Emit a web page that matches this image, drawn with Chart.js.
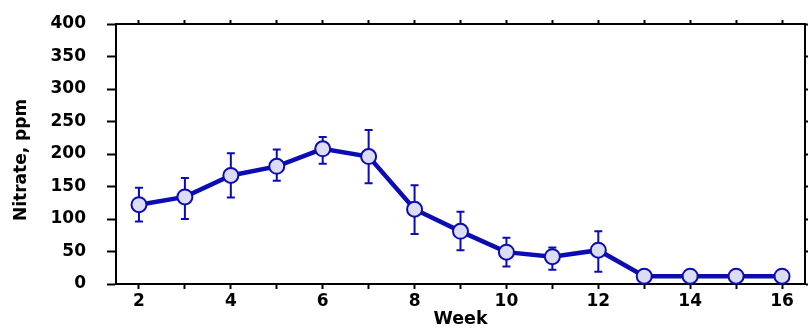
<!DOCTYPE html>
<html>
<head>
<meta charset="utf-8">
<script src="https://cdn.jsdelivr.net/npm/chart.js@4/dist/chart.umd.min.js"></script>
<style>
html,body{margin:0;padding:0;background:#fff;}
canvas{display:block;}
</style>
</head>
<body>
<canvas id="c" width="808" height="328"></canvas>
<script>
// ---- data ----
const weeks = [2, 3, 4, 5, 6, 7, 8, 9, 10, 11, 12, 13, 14, 15, 16];
const nitrate = [122, 134, 167, 181, 208, 196, 115, 81, 49, 42, 52, 12, 12, 12, 12];
const nitrateHigh = [148, 163, 201, 207, 226, 237, 152, 111, 71, 56, 81, null, null, null, null];
const nitrateLow = [96, 100, 133, 159, 185, 155, 77, 52, 27, 22, 19, null, null, null, null];
const yTicks = [0, 50, 100, 150, 200, 250, 300, 350, 400];
const xLabelWeeks = [2, 4, 6, 8, 10, 12, 14, 16];
const xTitle = 'Week';
const yTitle = 'Nitrate, ppm';

const BLUE = '#0c0cb4';
const FILL = '#dcdcf4';
const FONT = {family: 'DejaVu Sans', weight: 'bold', size: 17};

const errorBars = {
  id: 'errorBars',
  beforeDatasetsDraw(chart) {
    const {ctx, scales: {x, y}} = chart;
    ctx.save();
    ctx.strokeStyle = BLUE;
    ctx.lineWidth = 2;
    weeks.forEach((w, i) => {
      if (nitrateHigh[i] == null) return;
      const px = x.getPixelForValue(w);
      const yt = y.getPixelForValue(nitrateHigh[i]);
      const yb = y.getPixelForValue(nitrateLow[i]);
      ctx.beginPath();
      ctx.moveTo(px, yt); ctx.lineTo(px, yb);
      ctx.moveTo(px - 4, yt); ctx.lineTo(px + 4, yt);
      ctx.moveTo(px - 4, yb); ctx.lineTo(px + 4, yb);
      ctx.stroke();
    });
    ctx.restore();
  }
};

const tickSet = (vals) => (scale) => { scale.ticks = vals.map(v => ({value: v})); };
const noPad = (s) => { s.paddingTop = 0; s.paddingBottom = 0; s.paddingLeft = 0; s.paddingRight = 0; };

new Chart(document.getElementById('c'), {
  type: 'line',
  data: {
    datasets: [{
      data: weeks.map((w, i) => ({x: w, y: nitrate[i]})),
      borderColor: BLUE,
      borderWidth: 4.5,
      pointRadius: 7.5,
      pointBorderWidth: 2,
      pointBorderColor: BLUE,
      pointBackgroundColor: FILL,
      tension: 0,
      clip: false
    }]
  },
  options: {
    responsive: false,
    animation: false,
    events: [],
    layout: {padding: 0, autoPadding: false},
    plugins: {legend: {display: false}, tooltip: {enabled: false}},
    scales: {
      x: {
        type: 'linear', position: 'bottom', min: 1.5, max: 16.5,
        afterBuildTicks: tickSet(weeks),
        afterFit: (s) => { s.height = 44; noPad(s); },
        grid: {drawOnChartArea: false, drawTicks: true, tickLength: 5, tickWidth: 2, tickColor: '#000'},
        border: {display: true, color: '#000', width: 2},
        ticks: {
          color: '#000', font: FONT, padding: 2, maxRotation: 0, autoSkip: false,
          callback: (v) => xLabelWeeks.includes(v) ? String(v) : ''
        },
        title: {display: true, text: xTitle, color: '#000', font: {...FONT, size: 17.5, lineHeight: 1}, padding: {top: 0, bottom: 0}}
      },
      x2: {
        type: 'linear', position: 'top', min: 1.5, max: 16.5,
        afterBuildTicks: tickSet(weeks),
        afterFit: (s) => { s.height = 24; noPad(s); },
        grid: {drawOnChartArea: false, drawTicks: true, tickLength: 4, tickWidth: 2, tickColor: '#000'},
        border: {display: true, color: '#000', width: 2},
        ticks: {display: false}
      },
      y: {
        type: 'linear', position: 'left', min: 0, max: 400,
        afterBuildTicks: tickSet(yTicks),
        afterFit: (s) => { s.width = 116; noPad(s); },
        grid: {drawOnChartArea: false, drawTicks: true, tickLength: 9, tickWidth: 2, tickColor: '#000'},
        border: {display: true, color: '#000', width: 2},
        ticks: {color: '#000', font: FONT, padding: 21},
        title: {display: true, text: yTitle + '  ', color: '#000', font: {...FONT, lineHeight: 1.2}, padding: {top: 11, bottom: 0}}
      },
      y2: {
        type: 'linear', position: 'right', min: 0, max: 400,
        afterBuildTicks: tickSet(yTicks),
        afterFit: (s) => { s.width = 3; noPad(s); },
        grid: {drawOnChartArea: false, drawTicks: true, tickLength: 3, tickWidth: 2, tickColor: '#000'},
        border: {display: true, color: '#000', width: 2},
        ticks: {display: false}
      }
    }
  },
  plugins: [errorBars]
});
</script>
</body>
</html>
